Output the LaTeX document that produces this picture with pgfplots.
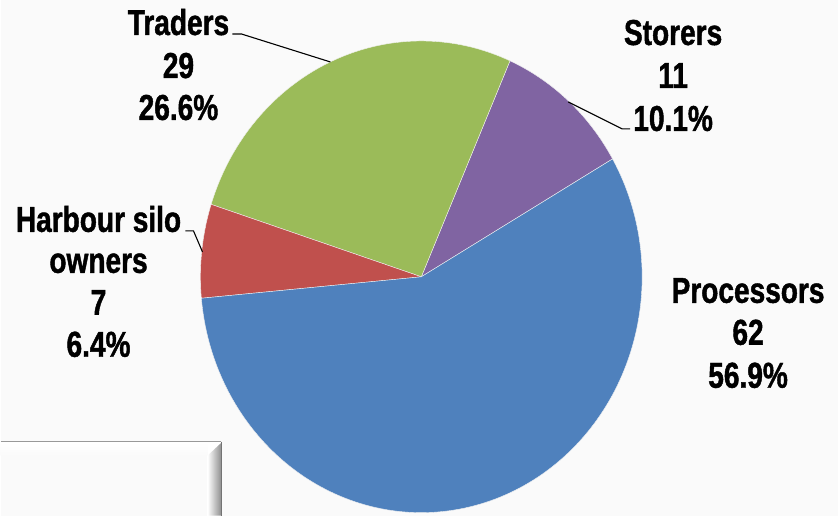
\documentclass[border=0pt]{standalone}
\usepackage{fontspec}
\setmainfont{Liberation Sans}[FakeStretch=0.78, BoldFeatures={FakeBold=1.2}]
\usepackage{pgfplots}
\pgfplotsset{compat=1.18}
\definecolor{cBlue}{HTML}{4F81BD}
\definecolor{cRed}{HTML}{C0504D}
\definecolor{cGreen}{HTML}{9BBB59}
\definecolor{cPurple}{HTML}{8064A2}
\definecolor{bg}{HTML}{FAFAFA}
\newcommand{\lbl}[3]{\node[anchor=base,inner sep=0pt] at (axis cs:#1,#2) {\fontsize{36bp}{42bp}\selectfont\bfseries #3};}
\begin{document}
\begin{tikzpicture}
% background
\fill[bg] (0,0) rectangle (838bp,516bp);
% bevelled box lower left
\fill[white] (0,0) rectangle (221bp,74bp);
\fill[bg] (0,0) rectangle (207bp,60bp);
\shade[top color=white, bottom color=bg] (0,60bp) rectangle (207bp,73bp);
\shade[left color=white, right color=black!45] (207bp,0) -- (207bp,60bp) -- (221bp,73bp) -- (221bp,0) -- cycle;
\draw[black!40, line width=1.2bp] (0,74bp) -- (221bp,74bp);
\draw[black!55, line width=1.2bp] (221bp,74bp) -- (221bp,0);
% data
\pgfmathsetmacro\vS{11}
\pgfmathsetmacro\vT{29}
\pgfmathsetmacro\vH{7}
\pgfmathsetmacro\vP{62}
\pgfmathsetmacro\tot{\vS+\vT+\vH+\vP}
\pgfmathsetmacro\aA{30}
\pgfmathsetmacro\aB{\aA+\vS/\tot*360}
\pgfmathsetmacro\aC{\aB+\vT/\tot*360}
\pgfmathsetmacro\aD{\aC+\vH/\tot*360}
\pgfmathsetmacro\aE{\aD+\vP/\tot*360}
\begin{axis}[at={(0,0)}, anchor=south west, width=838bp, height=516bp,
  scale only axis, xmin=0, xmax=838, ymin=0, ymax=516, y dir=reverse,
  hide axis, clip=false]
\addplot[draw=white!90!gray, line width=0.4bp, fill=cPurple, domain=\aA:\aB, samples=40, variable=\t]
  ({421+221*cos(\t)},{277-236*sin(\t)}) -- (axis cs:421,277) -- cycle;
\addplot[draw=white!90!gray, line width=0.4bp, fill=cGreen, domain=\aB:\aC, samples=80, variable=\t]
  ({421+221*cos(\t)},{277-236*sin(\t)}) -- (axis cs:421,277) -- cycle;
\addplot[draw=white!90!gray, line width=0.4bp, fill=cRed, domain=\aC:\aD, samples=30, variable=\t]
  ({421+221*cos(\t)},{277-236*sin(\t)}) -- (axis cs:421,277) -- cycle;
\addplot[draw=white!90!gray, line width=0.4bp, fill=cBlue, domain=\aD:\aE, samples=150, variable=\t]
  ({421+221*cos(\t)},{277-236*sin(\t)}) -- (axis cs:421,277) -- cycle;
% leader lines
\draw[black, line width=1.1bp] (axis cs:232,34) -- (axis cs:241,34) -- (axis cs:330,62);
\draw[black, line width=1.1bp] (axis cs:630,129) -- (axis cs:622,129) -- (axis cs:568,102);
\draw[black, line width=1.1bp] (axis cs:185,231) -- (axis cs:193,231) -- (axis cs:202,252);
% labels
\lbl{178}{35}{Traders}
\lbl{178}{78}{29}
\lbl{178}{120}{26.6\%}
\lbl{673}{45}{Storers}
\lbl{673}{88}{11}
\lbl{673}{131}{10.1\%}
\lbl{98}{232}{Harbour silo}
\lbl{98}{273}{owners}
\lbl{98}{315}{7}
\lbl{98}{357}{6.4\%}
\lbl{748}{303}{Processors}
\lbl{748}{345}{62}
\lbl{748}{388}{56.9\%}
\end{axis}
\end{tikzpicture}
\end{document}
